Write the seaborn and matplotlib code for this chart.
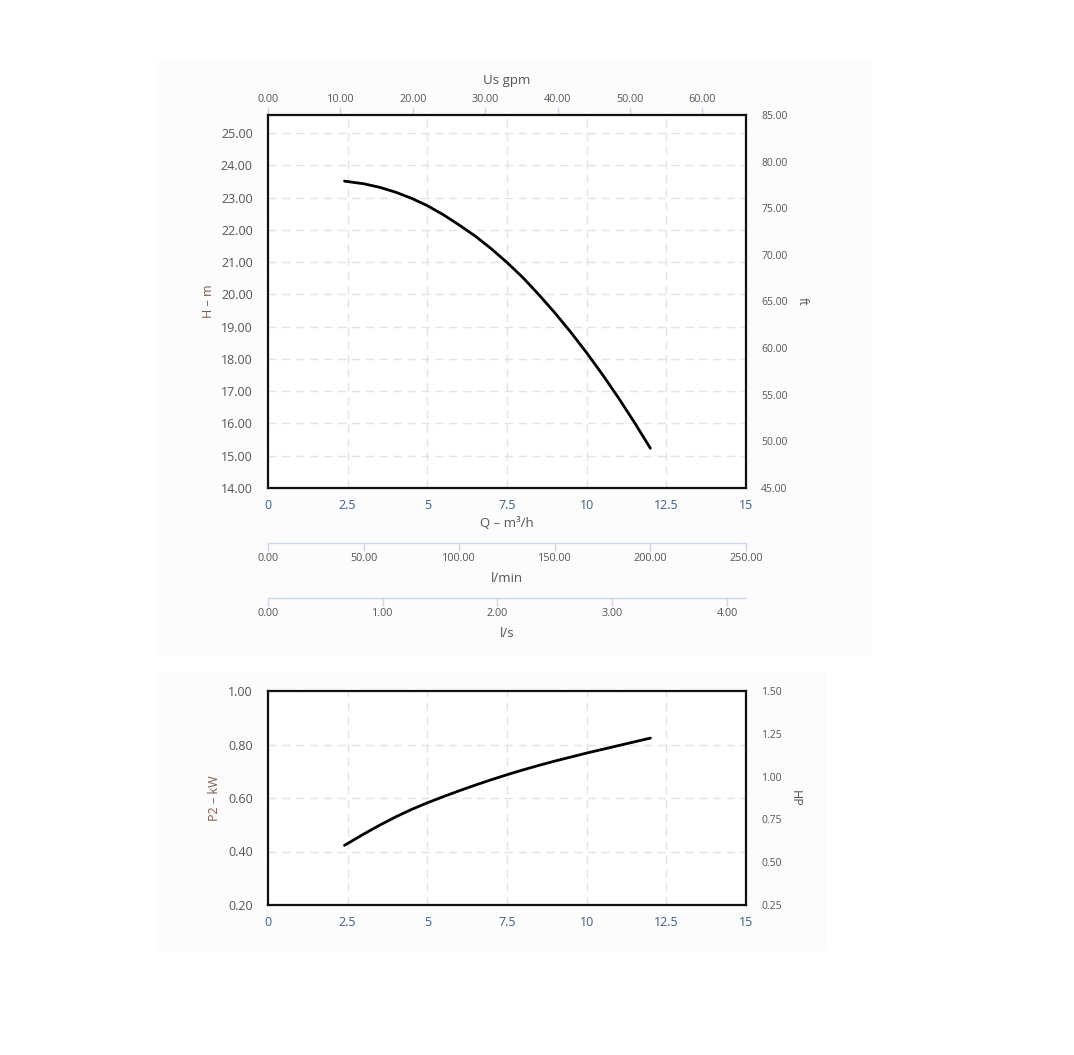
import numpy as np
import pandas as pd
import matplotlib.pyplot as plt
import matplotlib.ticker as mticker
from matplotlib.patches import Rectangle
import seaborn as sns

# flow (m3/h) and values
flow = [2.4, 3.0, 3.5, 4.0, 4.5, 5.0, 5.5, 6.0, 6.5, 7.0, 7.5,
        8.0, 8.5, 9.0, 9.5, 10.0, 10.5, 11.0, 11.5, 12.0]
head_m = [23.51, 23.43, 23.32, 23.17, 22.98, 22.75, 22.47, 22.15, 21.81, 21.42, 20.99,
          20.52, 19.99, 19.43, 18.83, 18.19, 17.51, 16.79, 16.03, 15.23]
power_kw = [0.423, 0.465, 0.498, 0.529, 0.557, 0.582, 0.605, 0.627, 0.648, 0.668, 0.687,
            0.705, 0.722, 0.738, 0.753, 0.768, 0.782, 0.796, 0.810, 0.824]

q_ticks = [0, 2.5, 5, 7.5, 10, 12.5, 15]
gpm_ticks = [0, 10, 20, 30, 40, 50, 60]
lmin_ticks = [0, 50, 100, 150, 200, 250]
ls_ticks = [0, 1, 2, 3, 4]
h_ticks = list(range(14, 26))
ft_ticks = [45, 50, 55, 60, 65, 70, 75, 80, 85]
kw_ticks = [0.2, 0.4, 0.6, 0.8, 1.0]
hp_ticks = [0.25, 0.5, 0.75, 1.0, 1.25, 1.5]

df = pd.DataFrame({"Q": flow, "H": head_m, "P2": power_kw})

sns.set_style("white")
plt.rcParams['font.family'] = ['Open Sans', 'DejaVu Sans']

TXT = '#555555'
TITLE = '#7a5a50'
XLAB = '#3f5f8a'
LIGHT = '#ccd6eb'
GRID = '#e3e3e3'

fig = plt.figure(figsize=(10.74, 10.55), dpi=100)
W, H = 1074, 1055

# faint panel backgrounds
for (x0, y0, x1, y1) in [(155, 62, 870, 655), (155, 672, 825, 950)]:
    fig.add_artist(Rectangle((x0 / W, 1 - y1 / H), (x1 - x0) / W, (y1 - y0) / H,
                             transform=fig.transFigure, color='#fcfcfc', zorder=-5))

ax1 = fig.add_axes([268 / W, 1 - 488 / H, 478 / W, 373 / H])
ax2 = fig.add_axes([268 / W, 1 - 905 / H, 478 / W, 214 / H])


def style_main(ax, yticks, ylim, fmt):
    ax.set_facecolor('white')
    ax.set_xlim(0, 15)
    ax.set_ylim(*ylim)
    ax.set_xticks(q_ticks)
    ax.xaxis.set_major_formatter(mticker.FuncFormatter(lambda v, p: f"{v:g}"))
    ax.set_yticks(yticks)
    ax.yaxis.set_major_formatter(mticker.FormatStrFormatter(fmt))
    ax.grid(True, color=GRID, linestyle=(0, (6, 4)), linewidth=1)
    for s in ax.spines.values():
        s.set_color('#111111')
        s.set_linewidth(1.6)
        s.set_visible(True)
    ax.tick_params(axis='y', length=0, pad=11, labelsize=9, labelcolor=TXT)
    ax.tick_params(axis='x', length=6, width=0.8, color=LIGHT, pad=2,
                   labelsize=9, labelcolor=XLAB, direction='out')


style_main(ax1, h_ticks, (14, 25.56), '%.2f')
style_main(ax2, kw_ticks, (0.2, 1.0), '%.2f')

sns.lineplot(data=df, x="Q", y="H", ax=ax1, color='black', linewidth=2)
sns.lineplot(data=df, x="Q", y="P2", ax=ax2, color='black', linewidth=2)

ax1.set_xlabel('Q – m³/h', fontsize=9.5, color=TXT, labelpad=3.5)
ax1.set_ylabel('H – m', fontsize=9, color=TITLE, labelpad=4)
ax2.set_xlabel('')
ax2.set_ylabel('P2 – kW', fontsize=9, color=TITLE, labelpad=5)

# right-hand unit axes
for ax, ticks, lim, lab, pad in [(ax1, ft_ticks, (45, 85), 'ft', 15),
                                 (ax2, hp_ticks, (0.25, 1.5), 'HP', 14)]:
    tw = ax.twinx()
    tw.set_ylim(*lim)
    tw.set_yticks(ticks)
    tw.yaxis.set_major_formatter(mticker.FormatStrFormatter('%.2f'))
    tw.tick_params(axis='y', length=0, pad=11, labelsize=7.5, labelcolor=TXT)
    for s in tw.spines.values():
        s.set_visible(False)
    tw.set_ylabel(lab, rotation=-90, fontsize=9, color=TXT, labelpad=pad)

# top gpm axis
gpm = ax1.secondary_xaxis('top', functions=(lambda q: q * 4.40287, lambda g: g / 4.40287))
gpm.set_xticks(gpm_ticks)
gpm.xaxis.set_major_formatter(mticker.FormatStrFormatter('%.2f'))
gpm.tick_params(axis='x', length=6, width=1, color=LIGHT, pad=1, labelsize=7.8,
                labelcolor=TXT, direction='out')
gpm.spines['top'].set_visible(False)
gpm.set_xlabel('Us gpm', fontsize=9.5, color=TXT, labelpad=7.5)

# l/min and l/s axes below
for loc, funcs, ticks, lab in [
    (-55 / 373, (lambda q: q * 1000 / 60, lambda v: v * 60 / 1000), lmin_ticks, 'l/min'),
    (-110 / 373, (lambda q: q / 3.6, lambda v: v * 3.6), ls_ticks, 'l/s'),
]:
    sec = ax1.secondary_xaxis(loc, functions=funcs)
    sec.set_xticks(ticks)
    sec.xaxis.set_major_formatter(mticker.FormatStrFormatter('%.2f'))
    sec.tick_params(axis='x', length=6, width=1, color=LIGHT, pad=1, labelsize=7.8,
                    labelcolor=TXT, direction='out')
    sec.spines['bottom'].set_color(LIGHT)
    sec.spines['bottom'].set_linewidth(1)
    sec.set_xlabel(lab, fontsize=9.5, color=TXT, labelpad=6)

fig.savefig("out.png", dpi=100)
